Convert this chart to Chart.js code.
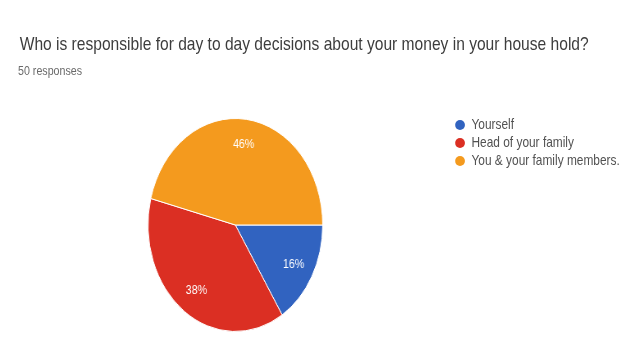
<!DOCTYPE html>
<html>
<head>
<meta charset="utf-8">
<title>Day to day money decisions</title>
<script src="https://cdn.jsdelivr.net/npm/chart.js@4.4.1/dist/chart.umd.min.js"></script>
<style>
  html, body { margin: 0; padding: 0; background: #fff; overflow: hidden; }
  body { width: 628px; height: 341px; }
  /* the card is laid out wide, then condensed horizontally */
  #card {
    position: relative;
    width: 766px;
    height: 341px;
    transform: scaleX(0.82);
    transform-origin: 0 0;
    font-family: "Liberation Sans", Arial, sans-serif;
  }
  #question {
    position: absolute; left: 24px; top: 33px;
    font-size: 19px; line-height: 22px; color: #3d3d3d;
    white-space: nowrap;
  }
  #count {
    position: absolute; left: 22px; top: 63px;
    font-size: 13px; line-height: 16px; color: #6a6a6a;
  }
  #pie { position: absolute; left: 0; top: 0; }
  #legend {
    position: absolute; left: 555px; top: 115px;
    margin: 0; padding: 0; list-style: none;
    font-size: 14.5px; color: #525252;
  }
  #legend li { height: 18px; line-height: 18px; white-space: nowrap; }
  #legend i {
    display: inline-block; width: 12px; height: 10px; border-radius: 50%;
    vertical-align: -1px; margin-right: 8px;
  }
</style>
</head>
<body>
<div id="card">
  <div id="question">Who is responsible for day to day decisions about your money in your house hold?</div>
  <div id="count">50 responses</div>
  <canvas id="pie" width="766" height="341"></canvas>
  <ul id="legend"></ul>
</div>
<script>
// answers and their share of the 50 responses (percent)
const answers = ['Yourself', 'Head of your family', 'You & your family members.'];
const shares = [16, 38, 46];
const sliceColors = ['#3163c0', '#db2f23', '#f49a1e'];

// writes the percentage inside each slice, a bit out from the centre
const sliceLabels = {
  id: 'sliceLabels',
  afterDatasetsDraw(chart) {
    const ctx = chart.ctx;
    const meta = chart.getDatasetMeta(0);
    ctx.save();
    ctx.font = '13px "Liberation Sans", Arial, sans-serif';
    ctx.fillStyle = '#fff';
    ctx.textAlign = 'center';
    ctx.textBaseline = 'middle';
    meta.data.forEach((arc, i) => {
      const p = arc.getProps(['x', 'y', 'startAngle', 'endAngle', 'outerRadius'], true);
      const mid = (p.startAngle + p.endAngle) / 2;
      const r = p.outerRadius * 0.76;
      ctx.fillText(shares[i] + '%', p.x + Math.cos(mid) * r, p.y + Math.sin(mid) * r);
    });
    ctx.restore();
  }
};

function buildLegend() {
  const list = document.getElementById('legend');
  list.innerHTML = answers.map((a, i) =>
    `<li><i style="background:${sliceColors[i]}"></i>${a.replace('&', '&amp;')}</li>`
  ).join('');
}

function renderPie() {
  const ctx = document.getElementById('pie');
  new Chart(ctx, {
    type: 'pie',
    data: {
      labels: answers,
      datasets: [{
        data: shares,
        backgroundColor: sliceColors,
        borderColor: '#fff',
        borderWidth: 1
      }]
    },
    options: {
      responsive: false,
      animation: false,
      devicePixelRatio: 1,
      rotation: 90,
      layout: { padding: { left: 180, right: 372, top: 118, bottom: 9 } },
      plugins: {
        legend: { display: false },
        tooltip: { enabled: false }
      }
    },
    plugins: [sliceLabels]
  });
}

buildLegend();
renderPie();
</script>
</body>
</html>
